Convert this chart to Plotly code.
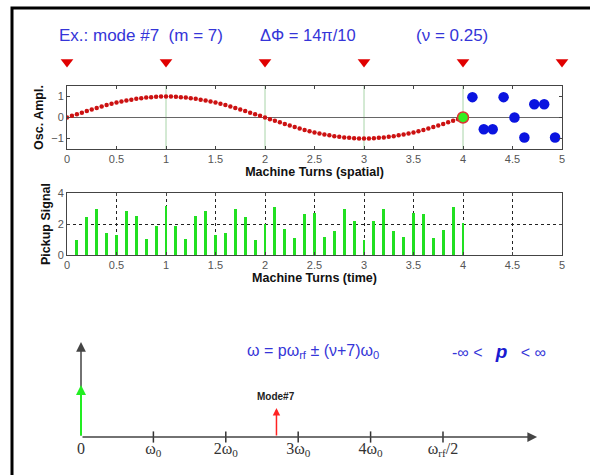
import plotly.graph_objects as go

# ---------------- data ----------------
# spatial picture of mode oscillation (red dotted curve)
wave_x = [0.0, 0.05, 0.1, 0.15, 0.2, 0.25, 0.3, 0.35, 0.4, 0.45, 0.5, 0.55, 0.6, 0.65, 0.7, 0.75,
          0.8, 0.85, 0.9, 0.95, 1.0, 1.05, 1.1, 1.15, 1.2, 1.25, 1.3, 1.35, 1.4, 1.45, 1.5, 1.55,
          1.6, 1.65, 1.7, 1.75, 1.8, 1.85, 1.9, 1.95, 2.0, 2.05, 2.1, 2.15, 2.2, 2.25, 2.3, 2.35,
          2.4, 2.45, 2.5, 2.55, 2.6, 2.65, 2.7, 2.75, 2.8, 2.85, 2.9, 2.95, 3.0, 3.05, 3.1, 3.15,
          3.2, 3.25, 3.3, 3.35, 3.4, 3.45, 3.5, 3.55, 3.6, 3.65, 3.7, 3.75, 3.8, 3.85, 3.9, 3.95, 4.0]
wave_y = [0.0, 0.08, 0.16, 0.23, 0.31, 0.38, 0.45, 0.52, 0.59, 0.65, 0.71, 0.76, 0.81, 0.85, 0.89, 0.92,
          0.95, 0.97, 0.99, 1.0, 1.0, 1.0, 0.99, 0.97, 0.95, 0.92, 0.89, 0.85, 0.81, 0.76, 0.71, 0.65,
          0.59, 0.52, 0.45, 0.38, 0.31, 0.23, 0.16, 0.08, 0.0, -0.08, -0.16, -0.23, -0.31, -0.38, -0.45, -0.52,
          -0.59, -0.65, -0.71, -0.76, -0.81, -0.85, -0.89, -0.92, -0.95, -0.97, -0.99, -1.0, -1.0, -1.0, -0.99, -0.97,
          -0.95, -0.92, -0.89, -0.85, -0.81, -0.76, -0.71, -0.65, -0.59, -0.52, -0.45, -0.38, -0.31, -0.23, -0.16, -0.08, 0.0]

# current bunch position (green dot)
current_x = [4.0]
current_y = [0.0]

# bunches still to come (blue dots)
bunch_x = [4.095, 4.21, 4.30, 4.41, 4.52, 4.62, 4.72, 4.82, 4.93]
bunch_y = [0.97, -0.56, -0.56, 0.97, 0.0, -0.95, 0.63, 0.63, -0.95]

# pickup positions (red triangles), one per turn
pickup_x = [0, 1, 2, 3, 4, 5]

# pickup signal (green bars)
signal_x = [0.1, 0.2, 0.3, 0.4, 0.5, 0.6, 0.7, 0.8, 0.9, 1.0,
            1.1, 1.2, 1.3, 1.4, 1.5, 1.6, 1.7, 1.8, 1.9, 2.0,
            2.1, 2.2, 2.3, 2.4, 2.5, 2.6, 2.7, 2.8, 2.9, 3.0,
            3.1, 3.2, 3.3, 3.4, 3.5, 3.6, 3.7, 3.8, 3.9, 4.0]
signal_y = [0.99, 2.42, 2.94, 1.43, 1.32, 2.86, 2.5, 1.05, 1.85, 3.16,
            1.85, 1.05, 2.5, 2.86, 1.32, 1.43, 2.94, 2.42, 0.99, 2.0,
            3.08, 1.65, 1.1, 2.65, 2.7, 1.17, 1.57, 2.98, 2.2, 0.98,
            2.2, 2.98, 1.57, 1.17, 2.7, 2.63, 1.09, 1.63, 3.09, 2.04]

turn_ticks = [0, 0.5, 1, 1.5, 2, 2.5, 3, 3.5, 4, 4.5, 5]
turn_labels = ["0", "0.5", "1", "1.5", "2", "2.5", "3", "3.5", "4", "4.5", "5"]
turn_lines = [1, 2, 3, 4]

# frequency axis (units of omega_0)
omega_ticks = [0, 1, 2, 3, 4, 5]
omega_labels = ["0", "ω<sub>0</sub>", "2ω<sub>0</sub>", "3ω<sub>0</sub>", "4ω<sub>0</sub>", "ω<sub>rf</sub>/2"]
mode7_freq = 2.7
revolution_line_height = 52
mode7_line_height = 29

# ---------------- figure ----------------
W, H = 590, 475
def px(x):
    return x / W
def py(y):
    return 1 - y / H

SANS = "Liberation Sans, Arial, sans-serif"
SERIF = "Liberation Serif, Times New Roman, serif"
BLUE = "#3535d8"

fig = go.Figure()

fig.add_trace(go.Scatter(x=wave_x, y=wave_y, mode="markers", xaxis="x", yaxis="y",
                         marker=dict(size=4.5, color="#cc1111"), showlegend=False, hoverinfo="skip"))
fig.add_trace(go.Scatter(x=current_x, y=current_y, mode="markers", xaxis="x", yaxis="y",
                         marker=dict(size=11, color="#33ee22", line=dict(color="#dd3333", width=1.5)),
                         showlegend=False, cliponaxis=False))
fig.add_trace(go.Scatter(x=bunch_x, y=bunch_y, mode="markers", xaxis="x", yaxis="y",
                         marker=dict(size=10.5, color="#0a14e0"), showlegend=False, cliponaxis=False))

fig.add_trace(go.Bar(x=signal_x, y=signal_y, xaxis="x2", yaxis="y2", width=0.03,
                     marker=dict(color="#22e022", line=dict(width=0)), showlegend=False))

fig.add_trace(go.Scatter(x=pickup_x, y=[1] * len(pickup_x), mode="markers", xaxis="x3", yaxis="y3",
                         marker=dict(symbol="triangle-down", size=11, color="#e00000"),
                         showlegend=False, cliponaxis=False))

fig.add_trace(go.Scatter(x=omega_ticks[1:], y=[0] * (len(omega_ticks) - 1), mode="markers",
                         xaxis="x4", yaxis="y4",
                         marker=dict(symbol="line-ns", size=8, line=dict(color="#333333", width=1.5)),
                         showlegend=False, cliponaxis=False))

dom_x = [px(67), px(562)]
tickfont = dict(family=SANS, size=11, color="#555555")
titlefont = dict(family=SANS, size=12.5, color="#111111")

fig.update_layout(
    width=W, height=H, template="none",
    margin=dict(l=0, r=0, t=0, b=0),
    paper_bgcolor="white", plot_bgcolor="rgba(0,0,0,0)",
    bargap=0,
    xaxis=dict(domain=dom_x, anchor="y", range=[0, 5], tickvals=turn_ticks, ticktext=turn_labels,
               ticks="inside", ticklen=3, tickcolor="#444", showline=True, mirror="ticks",
               linecolor="#444", linewidth=1, showgrid=False, zeroline=False, tickfont=tickfont,
               title=dict(text="<b>Machine Turns (spatial)</b>", font=titlefont, standoff=1),
               automargin=False),
    yaxis=dict(domain=[py(149), py(86)], anchor="x", range=[-1.5, 1.5], tickvals=[-1, 0, 1],
               ticks="inside", ticklen=3, tickcolor="#444", showline=True, mirror="ticks",
               linecolor="#444", linewidth=1, showgrid=False, zeroline=True, zerolinecolor="#666",
               zerolinewidth=1, tickfont=tickfont,
               title=dict(text="<b>Osc. Ampl.</b>", font=titlefont, standoff=4), automargin=False),
    xaxis2=dict(domain=dom_x, anchor="y2", range=[0, 5], tickvals=turn_ticks, ticktext=turn_labels,
                ticks="inside", ticklen=3, tickcolor="#444", showline=True, mirror="ticks",
                linecolor="#444", linewidth=1, showgrid=True, gridcolor="#222", griddash="dot",
                gridwidth=1, zeroline=False, tickfont=tickfont,
                title=dict(text="<b>Machine Turns (time)</b>", font=titlefont, standoff=1),
                automargin=False),
    yaxis2=dict(domain=[py(255), py(193)], anchor="x2", range=[0, 4], tickvals=[0, 2, 4],
                ticks="inside", ticklen=3, tickcolor="#444", showline=True, mirror="ticks",
                linecolor="#444", linewidth=1, showgrid=True, gridcolor="#222", griddash="dot",
                gridwidth=1, zeroline=False, tickfont=tickfont,
                title=dict(text="<b>Pickup Signal</b>", font=titlefont, standoff=4), automargin=False),
    xaxis3=dict(domain=dom_x, anchor="y3", range=[0, 5], visible=False),
    yaxis3=dict(domain=[py(72), py(52)], anchor="x3", range=[0, 2], visible=False),
    xaxis4=dict(domain=[px(81), px(540)], anchor="y4", range=[0, 6.34], tickvals=omega_ticks,
                ticktext=omega_labels, ticks="", showline=False, showgrid=False, zeroline=False,
                tickfont=dict(family=SERIF, size=16, color="#333333"), automargin=False),
    yaxis4=dict(domain=[py(437), py(337)], anchor="x4", range=[0, 100], visible=False),
)

# vertical turn gridlines (light green) in the spatial plot
for t in turn_lines:
    fig.add_shape(type="line", xref="x", yref="y domain", x0=t, x1=t, y0=0, y1=1,
                  line=dict(color="#a8d4a8", width=1), layer="below")

# keep the right margin clean
fig.add_shape(type="rect", xref="paper", yref="paper", x0=px(572), x1=px(595), y0=py(480), y1=py(11),
              line=dict(width=0), fillcolor="white", layer="above")

# frame (top and left edges)
fig.add_shape(type="path", xref="paper", yref="paper",
              path=f"M {px(12)},{py(476)} L {px(12)},{py(8)} L {px(600)},{py(8)}",
              line=dict(color="black", width=3), layer="above")

# frequency diagram arrows
fig.add_annotation(x=6.3, y=0, ax=0, ay=0, xref="x4", yref="y4", axref="x4", ayref="y4",
                   showarrow=True, arrowhead=2, arrowsize=1.3, arrowwidth=1.5, arrowcolor="#444", text="")
fig.add_annotation(x=0, y=95, ax=0, ay=0, xref="x4", yref="y4", axref="x4", ayref="y4",
                   showarrow=True, arrowhead=2, arrowsize=1.3, arrowwidth=1.5, arrowcolor="#444", text="")
fig.add_annotation(x=0, y=revolution_line_height, ax=0, ay=0, xref="x4", yref="y4", axref="x4", ayref="y4",
                   showarrow=True, arrowhead=2, arrowsize=1, arrowwidth=2, arrowcolor="#22ee22", text="")
fig.add_annotation(x=mode7_freq, y=mode7_line_height, ax=mode7_freq, ay=0, xref="x4", yref="y4",
                   axref="x4", ayref="y4", showarrow=True, arrowhead=2, arrowsize=1, arrowwidth=1.5,
                   arrowcolor="#ff2222", text="")
fig.add_annotation(x=mode7_freq, y=41, xref="x4", yref="y4", text="<b>Mode#7</b>", showarrow=False,
                   font=dict(family=SANS, size=10, color="#222"), yanchor="middle")

# texts
fig.add_annotation(x=px(57), y=py(36), xref="paper", yref="paper", xanchor="left", yanchor="middle",
                   text="Ex.: mode #7  (m = 7)", showarrow=False, font=dict(family=SANS, size=17, color=BLUE))
fig.add_annotation(x=px(258), y=py(35), xref="paper", yref="paper", xanchor="left", yanchor="middle",
                   text="ΔΦ = 14π/10", showarrow=False, font=dict(family=SANS, size=16.5, color=BLUE))
fig.add_annotation(x=px(414), y=py(36), xref="paper", yref="paper", xanchor="left", yanchor="middle",
                   text="(ν = 0.25)", showarrow=False, font=dict(family=SANS, size=17, color=BLUE))
fig.add_annotation(x=px(245), y=py(351), xref="paper", yref="paper", xanchor="left", yanchor="middle",
                   text="ω = pω<sub>rf</sub> ± (ν+7)ω<sub>0</sub>", showarrow=False,
                   font=dict(family=SANS, size=16, color=BLUE))
fig.add_annotation(x=px(450), y=py(351), xref="paper", yref="paper", xanchor="left", yanchor="middle",
                   text="-∞ <   <b><i><span style='font-size:19px;color:#1a1ad0'>p</span></i></b>   < ∞",
                   showarrow=False, font=dict(family=SANS, size=16, color=BLUE))

fig.write_html("out.html", config={"displayModeBar": False},
               post_script="document.body.style.margin='0';document.body.style.overflow='hidden';")
